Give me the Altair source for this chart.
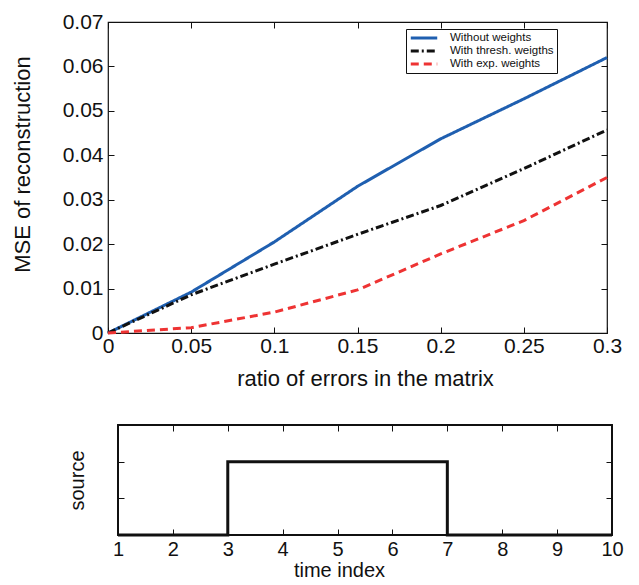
import altair as alt
import pandas as pd

# ---- data ----
ratio = [0, 0.05, 0.1, 0.15, 0.2, 0.25, 0.3]
mse_without = [0, 0.0092, 0.0205, 0.0330, 0.0437, 0.0527, 0.0620]
mse_thresh = [0, 0.0086, 0.0155, 0.0222, 0.0287, 0.0370, 0.0457]
mse_exp = [0, 0.0012, 0.0047, 0.0097, 0.0178, 0.0253, 0.0350]
series_names = ["Without weights", "With thresh. weigths", "With exp. weights"]
series_colors = ["#1f5fb0", "#111111", "#ee3333"]
series_dashes = [[1, 0], [8, 3, 2, 3], [8, 5]]
x_ticks = [0, 0.05, 0.1, 0.15, 0.2, 0.25, 0.3]
y_ticks = [0, 0.01, 0.02, 0.03, 0.04, 0.05, 0.06, 0.07]
x_domain = [0, 0.3]
y_domain = [0, 0.07]

time_index = [1, 2, 3, 4, 5, 6, 7, 8, 9, 10]
source_vals = [0, 0, 1, 1, 1, 1, 0, 0, 0, 0]
source_ticks = [0.5, 1.0]
t_domain = [1, 10]
s_domain = [0, 1.5]

rows = []
for name, vals in zip(series_names, [mse_without, mse_thresh, mse_exp]):
    for xv, yv in zip(ratio, vals):
        rows.append({"ratio": xv, "mse": yv, "series": name})
df = pd.DataFrame(rows)
df2 = pd.DataFrame({"t": time_index, "source": source_vals})

FONT = "Liberation Sans"
INK = "#111111"
W1, H1 = 499, 311
W2, H2 = 494, 110
SHIFT = 10
TK = 6

top = alt.Chart(df).mark_line(strokeWidth=3).encode(
    x=alt.X("ratio:Q", scale=alt.Scale(domain=x_domain, nice=False, zero=False),
            axis=alt.Axis(title="ratio of errors in the matrix", values=x_ticks, format="~g",
                          labelFontSize=21, titleFontSize=22, labelPadding=2, titlePadding=12,
                          titleX=257, titleAlign="center",
                          grid=True, gridColor=INK, gridOpacity=1, gridWidth=1,
                          gridDash=[TK, H1 - 2 * TK, TK, 2000], ticks=False, tickSize=0,
                          domain=False, labelFlush=False)),
    y=alt.Y("mse:Q", scale=alt.Scale(domain=y_domain, nice=False),
            axis=alt.Axis(title="MSE of reconstruction", values=y_ticks, format="~g",
                          labelFontSize=21, titleFontSize=22, labelPadding=5, titlePadding=28,
                          titleY=142,
                          grid=True, gridColor=INK, gridOpacity=1, gridWidth=1,
                          gridDash=[TK, W1 - 2 * TK, TK, 2000], ticks=False, tickSize=0,
                          domain=False, labelFlush=False)),
    color=alt.Color("series:N", scale=alt.Scale(domain=series_names, range=series_colors),
                    legend=alt.Legend(title=None)),
    strokeDash=alt.StrokeDash("series:N", scale=alt.Scale(domain=series_names, range=series_dashes),
                              legend=alt.Legend(title=None)),
).properties(width=W1, height=H1, view=alt.ViewBackground(stroke=INK, strokeWidth=1.2))

bscale_x = alt.Scale(domain=t_domain, nice=False, zero=False, range=[SHIFT, W2 + SHIFT])
bx = alt.X("t:Q", scale=bscale_x,
           axis=alt.Axis(title="time index", values=time_index, format="d",
                         labelFontSize=20, titleFontSize=20, labelPadding=4, titlePadding=1,
                         titleX=231, titleAlign="center",
                         grid=True, gridColor=INK, gridOpacity=1, gridWidth=1,
                         gridDash=[TK, H2 - 2 * TK, TK, 2000], ticks=False, tickSize=0,
                         domain=False, labelFlush=False))
by = alt.Y("source:Q", scale=alt.Scale(domain=s_domain, nice=False),
           axis=alt.Axis(title="source", values=source_ticks, labels=False,
                         titleFontSize=20, titlePadding=21,
                         grid=True, gridColor=INK, gridOpacity=1, gridWidth=1,
                         gridDash=[TK, W2 - 2 * TK, TK, 2000], ticks=False, tickSize=0,
                         domain=False))

frame = alt.Chart(df2).mark_rect(fill="transparent", stroke=INK, strokeWidth=1.2).encode(
    x=alt.datum(t_domain[0], scale=bscale_x),
    x2=alt.datum(t_domain[1]),
    y=alt.datum(s_domain[0]),
    y2=alt.datum(s_domain[1]),
)
step = alt.Chart(df2).mark_line(interpolate="step-after", strokeWidth=3, color=INK).encode(x=bx, y=by)

bottom = alt.layer(step, frame).properties(
    width=W2 + SHIFT, height=H2, view=alt.ViewBackground(strokeOpacity=0, strokeWidth=0)
)

chart = alt.vconcat(top, bottom, spacing=34).properties(
    padding={"left": 2, "top": 2, "right": 5, "bottom": 5}
).configure(font=FONT).configure_axis(
    labelColor=INK, titleColor=INK, titleFontWeight="normal", labelFont=FONT, titleFont=FONT
).configure_legend(
    orient="none", legendX=298, legendY=7, strokeColor=INK, fillColor="white",
    padding=3, labelFontSize=11.5, labelFont=FONT, labelColor=INK,
    symbolType="stroke", symbolSize=700, symbolStrokeWidth=3, rowPadding=1,
    labelOffset=11, clipHeight=12
)

chart.save("out.html", embed_options={"renderer": "svg", "actions": False})
